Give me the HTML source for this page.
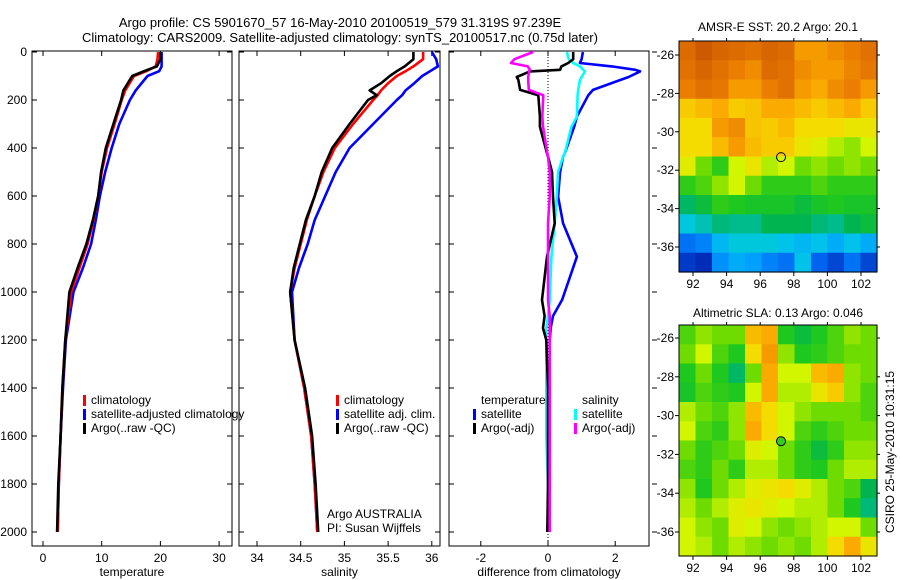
<!DOCTYPE html>
<html><head><meta charset="utf-8">
<style>
html,body{margin:0;padding:0;background:#fff;}
svg{display:block;font-family:"Liberation Sans",sans-serif;}
text{font-size:12px;fill:#000;}
</style></head>
<body>
<svg id="fig" width="900" height="580" viewBox="0 0 900 580" xmlns="http://www.w3.org/2000/svg">
<text x="340" y="27" text-anchor="middle" style="font-size:13px">Argo profile: CS 5901670_57 16-May-2010 20100519_579 31.319S 97.239E</text>
<text x="340" y="42" text-anchor="middle" style="font-size:13px">Climatology: CARS2009. Satellite-adjusted climatology: synTS_20100517.nc (0.75d later)</text>
<g id="g"></g>
<text x="778" y="31" text-anchor="middle">AMSR-E SST: 20.2 Argo: 20.1</text>
<text x="778" y="317" text-anchor="middle">Altimetric SLA: 0.13 Argo: 0.046</text>
<text transform="translate(894,452) rotate(-90)" text-anchor="middle">CSIRO 25-May-2010 10:31:15</text>
</svg>
<script>
// ---- data ----
const tDepth = [0,30,60,80,100,160,200,300,400,500,600,700,800,900,1000,1200,1400,1600,1800,2000];
const tClim  = [19.6,19.5,19.2,17.6,15.5,14.0,13.4,12.2,10.9,10.0,9.4,8.6,7.6,6.2,4.8,3.8,3.3,3.0,2.7,2.5];
const tSat   = [20.2,20.2,20.2,19.8,17.8,15.8,14.8,13.0,11.7,10.6,9.7,9.0,8.2,6.8,5.2,3.9,3.4,3.0,2.7,2.5];
const tArgo  = [20.0,20.0,19.4,17.2,15.2,13.7,13.3,12.0,10.7,9.9,9.4,8.5,7.4,5.9,4.5,3.8,3.3,3.0,2.6,2.4];
const sDepth = [0,30,60,80,100,130,160,180,200,300,400,500,600,700,800,900,1000,1200,1400,1600,1800,2000];
const sClim  = [35.90,35.90,35.79,35.7,35.6,35.5,35.42,35.38,35.33,35.10,34.89,34.76,34.66,34.57,34.50,34.43,34.38,34.43,34.54,34.62,34.66,34.69];
const sSat   = [36.00,36.05,36.07,35.98,35.89,35.80,35.7,35.66,35.60,35.33,35.06,34.9,34.78,34.66,34.58,34.48,34.40,34.43,34.54,34.62,34.66,34.69];
const sArgo  = [35.79,35.79,35.69,35.6,35.52,35.42,35.29,35.37,35.27,35.06,34.86,34.74,34.66,34.56,34.49,34.42,34.38,34.43,34.55,34.63,34.67,34.70];
const dDepth = [0,30,46,60,74,81,104,117,158,180,269,311,422,436,500,603,714,853,1033,1100,1150,1200,1400,1600,1800,2000];
const dTSat  = [1.04,1.0,0.95,1.9,2.6,2.74,2.4,2.14,1.34,1.2,0.86,0.78,0.5,0.45,0.36,0.30,0.45,0.86,0.42,0.15,0.08,0.05,0.05,0.05,0.05,0.05];
const dSSat  = [0.56,0.62,0.75,0.95,1.05,1.1,1.0,0.95,0.9,0.88,0.86,0.7,0.5,0.45,0.3,0.26,0.2,0.1,0.05,0.0,-0.05,-0.05,-0.05,-0.05,0.0,0.02];
const dTArgo = [0.75,0.75,0.6,0.4,0.36,-0.54,-0.93,-0.88,-0.83,-0.29,-0.24,-0.24,-0.03,0.0,0.12,0.15,0.2,-0.03,-0.18,-0.1,-0.15,-0.05,0.0,0.0,0.0,-0.02];
const dSArgo = [-0.44,-1.0,-1.1,-0.6,-0.54,-0.56,-0.59,-0.59,-0.57,-0.14,-0.17,-0.15,-0.02,0.0,0.05,0.05,0.0,0.0,0.0,0.05,0.05,0.05,0.05,0.05,0.05,0.05];
const depthTicks = [0,200,400,600,800,1000,1200,1400,1600,1800,2000];
const tTicks = [0,10,20,30];
const sTicks = [34,34.5,35,35.5,36];
const sTickLabels = ["34","34.5","35","35.5","36"];
const dTicks = [-2,0,2];
const lonTicks = [92,94,96,98,100,102];
const latTicks = [-26,-28,-30,-32,-34,-36];
const sstGrid = [
[.87,.9,.88,.87,.86,.88,.87,.8,.8,.82,.84,.86],
[.86,.88,.86,.84,.82,.87,.86,.82,.8,.8,.83,.85],
[.84,.86,.85,.8,.8,.84,.86,.8,.78,.82,.84,.8],
[.74,.76,.78,.74,.75,.78,.78,.76,.74,.76,.78,.74],
[.72,.72,.8,.82,.75,.74,.76,.72,.72,.72,.7,.7],
[.72,.72,.76,.8,.76,.74,.74,.7,.68,.64,.62,.66],
[.68,.6,.56,.66,.7,.64,.66,.6,.62,.6,.62,.6],
[.56,.58,.62,.66,.6,.56,.56,.56,.58,.56,.56,.56],
[.48,.52,.56,.55,.54,.54,.54,.52,.54,.55,.54,.54],
[.36,.4,.46,.44,.44,.5,.5,.5,.46,.44,.5,.52],
[.22,.24,.32,.36,.36,.36,.34,.32,.34,.3,.34,.3],
[.14,.12,.26,.3,.28,.24,.22,.34,.2,.16,.22,.16]];
const slaGrid = [
[.58,.62,.6,.6,.76,.78,.55,.52,.55,.58,.62,.6],
[.6,.66,.58,.55,.72,.8,.62,.55,.56,.58,.6,.6],
[.55,.6,.55,.48,.6,.78,.66,.66,.76,.78,.62,.6],
[.54,.58,.56,.55,.66,.78,.64,.64,.7,.74,.62,.58],
[.64,.6,.58,.62,.76,.72,.66,.62,.6,.6,.6,.58],
[.66,.58,.56,.62,.78,.72,.66,.58,.56,.58,.6,.6],
[.6,.56,.58,.6,.68,.66,.6,.56,.52,.56,.62,.62],
[.58,.56,.6,.56,.64,.64,.6,.56,.55,.6,.64,.64],
[.62,.55,.6,.64,.68,.7,.72,.68,.64,.6,.58,.5],
[.64,.6,.64,.68,.7,.68,.66,.64,.64,.6,.55,.46],
[.66,.62,.6,.68,.66,.62,.6,.62,.64,.66,.66,.6],
[.66,.64,.6,.64,.62,.6,.62,.6,.64,.72,.78,.7]];
const floatLon = 97.239, floatLat = -31.319;

// ---- drawing ----
const NS="http://www.w3.org/2000/svg";
const G=document.getElementById('g');
function mk(tag,attrs,parent){const e=document.createElementNS(NS,tag);for(const k in attrs)e.setAttribute(k,attrs[k]);(parent||G).appendChild(e);return e;}
const yD = d => 52 + d*0.24;
const xT = v => 43 + v*5.87;
const xS = v => 257 + (v-34)*87.4;
const xDf = v => 548 + v*33.6;
const panels=[{x0:32,x1:232,fx:xT,ticks:tTicks,labs:tTicks.map(String),label:"temperature",name:"temperature"},
 {x0:239,x1:440,fx:xS,ticks:sTicks,labs:sTickLabels,label:"salinity",name:"salinity"},
 {x0:449,x1:649,fx:xDf,ticks:dTicks,labs:dTicks.map(String),label:"difference from climatology",name:"difference"}];
panels.forEach((p,i)=>{
  const r=mk('rect',{x:p.x0,y:51,width:p.x1-p.x0,height:495,fill:'none',stroke:'#000','stroke-width':1});
  
  
  p.ticks.forEach((t,j)=>{
    const x=p.fx(t);
    mk('line',{x1:x,x2:x,y1:546,y2:541,stroke:'#000'});
    mk('line',{x1:x,x2:x,y1:51,y2:56,stroke:'#000'});
    const tx=mk('text',{x:x,y:562,'text-anchor':'middle'});tx.textContent=p.labs[j];
    
    
  });
  const xl=mk('text',{x:(p.x0+p.x1)/2,y:576,'text-anchor':'middle'});xl.textContent=p.label;
  
  
  depthTicks.forEach(d=>{
    const y=yD(d);
    mk('line',{x1:p.x0,x2:p.x0+5,y1:y,y2:y,stroke:'#000'});
    if(i<2) mk('line',{x1:p.x1,x2:p.x1-5,y1:y,y2:y,stroke:'#000'});
    if(i==0){const t=mk('text',{x:27,y:y+4,'text-anchor':'end'});t.textContent=d;
      
      }
    if(i==2) mk('line',{x1:652,x2:657,y1:y,y2:y,stroke:'#000'});
  });
});
mk('line',{x1:xDf(0),x2:xDf(0),y1:51,y2:546,stroke:'#000','stroke-dasharray':'1,2'});
function line(xs,ds,fx,col,name){
  const pts=xs.map((v,k)=>fx(v).toFixed(1)+','+yD(ds[k]).toFixed(1)).join(' ');
  const l=mk('polyline',{points:pts,fill:'none',stroke:col,'stroke-width':2.6,'stroke-linejoin':'round'});
  
  
}
line(tSat,tDepth,xT,'#0000ff','temp-satellite-line');
line(tClim,tDepth,xT,'#ff0000','temp-climatology-line');
line(tArgo,tDepth,xT,'#000','temp-argo-line');
line(sSat,sDepth,xS,'#0000ff','sal-satellite-line');
line(sClim,sDepth,xS,'#ff0000','sal-climatology-line');
line(sArgo,sDepth,xS,'#000','sal-argo-line');
line(dTSat,dDepth,xDf,'#0000ff','diff-temp-satellite-line');
line(dSSat,dDepth,xDf,'#00ffff','diff-sal-satellite-line');
line(dTArgo,dDepth,xDf,'#000','diff-temp-argo-line');
line(dSArgo,dDepth,xDf,'#ff00ff','diff-sal-argo-line');
function leg(x,y,col,txt,name){
  if(col) mk('rect',{x:x,y:y-9,width:3,height:11,fill:col});
  const t=mk('text',{x:x+(col?8:0),y:y});t.textContent=txt;
  
  
}
leg(83,404,'#ff0000','climatology','legend-temp-climatology');
leg(83,418,'#0000ff','satellite-adjusted climatology','legend-temp-satellite');
leg(83,432,'#000','Argo(..raw -QC)','legend-temp-argo');
leg(336,404,'#ff0000','climatology','legend-sal-climatology');
leg(336,418,'#0000ff','satellite adj. clim.','legend-sal-satellite');
leg(336,432,'#000','Argo(..raw -QC)','legend-sal-argo');
leg(481,404,null,'temperature','legend-diff-temp-header');
leg(473,418,'#0000ff','satellite','legend-diff-temp-satellite');
leg(473,432,'#000','Argo(-adj)','legend-diff-temp-argo');
leg(582,404,null,'salinity','legend-diff-sal-header');
leg(574,418,'#00ffff','satellite','legend-diff-sal-satellite');
leg(574,432,'#ff00ff','Argo(-adj)','legend-diff-sal-argo');
leg(327,518,null,'Argo AUSTRALIA','argo-country-label');
leg(327,532,null,'PI: Susan Wijffels','pi-label');
// ---- maps ----
const cmStops=[[0.1,[0,30,170]],[0.2,[0,100,240]],[0.28,[0,160,255]],[0.35,[0,200,230]],[0.42,[0,190,160]],[0.5,[0,180,80]],[0.55,[30,200,30]],[0.6,[110,220,0]],[0.66,[210,245,0]],[0.72,[245,220,0]],[0.78,[250,170,0]],[0.84,[235,125,0]],[0.9,[205,90,0]]];
function cmap(v){
  if(v<=cmStops[0][0]) return `rgb(${cmStops[0][1].join(',')})`;
  for(let i=1;i<cmStops.length;i++){
    if(v<=cmStops[i][0]){const a=cmStops[i-1],b=cmStops[i],f=(v-a[0])/(b[0]-a[0]);
      return 'rgb('+a[1].map((c,k)=>Math.round(c+(b[1][k]-c)*f)).join(',')+')';}
  }
  return `rgb(${cmStops[cmStops.length-1][1].join(',')})`;
}
function map(grid,x0,x1,y0,y1,latTop,latScale,dotFill,name){
  const mx=v=>693+(v-92)*16.8, my=v=>latTop+(-26-v)*latScale;
  const nr=grid.length,nc=grid[0].length,cw=(x1-x0)/nc,ch=(y1-y0)/nr;
  grid.forEach((row,r)=>row.forEach((v,c)=>{
    const e=mk('rect',{x:(x0+c*cw).toFixed(2),y:(y0+r*ch).toFixed(2),width:(cw+0.6).toFixed(2),height:(ch+0.6).toFixed(2),fill:cmap(v)});
    
    
  }));
  const b=mk('rect',{x:x0,y:y0,width:x1-x0,height:y1-y0,fill:'none',stroke:'#000'});
  
  
  lonTicks.forEach(l=>{const x=mx(l);
    mk('line',{x1:x,x2:x,y1:y1,y2:y1+4,stroke:'#000'});mk('line',{x1:x,x2:x,y1:y0,y2:y0-3,stroke:'#000'});
    const t=mk('text',{x:x,y:y1+16,'text-anchor':'middle'});t.textContent=l;
    
    });
  latTicks.forEach(l=>{const y=my(l);
    mk('line',{x1:x0,x2:x0-4,y1:y,y2:y,stroke:'#000'});mk('line',{x1:x1,x2:x1+3,y1:y,y2:y,stroke:'#000'});
    const t=mk('text',{x:x0-5,y:y+4,'text-anchor':'end'});t.textContent=l;
    
    });
  const d=mk('circle',{cx:mx(floatLon),cy:my(floatLat),r:4.5,fill:dotFill,stroke:'#000','stroke-width':1});
  
  
}
map(sstGrid,679,877,41,272,55,19.2,'none','sst-map');
map(slaGrid,679,877,325,556,338,19.4,'#33cc22','sla-map');
</script>
</body></html>
